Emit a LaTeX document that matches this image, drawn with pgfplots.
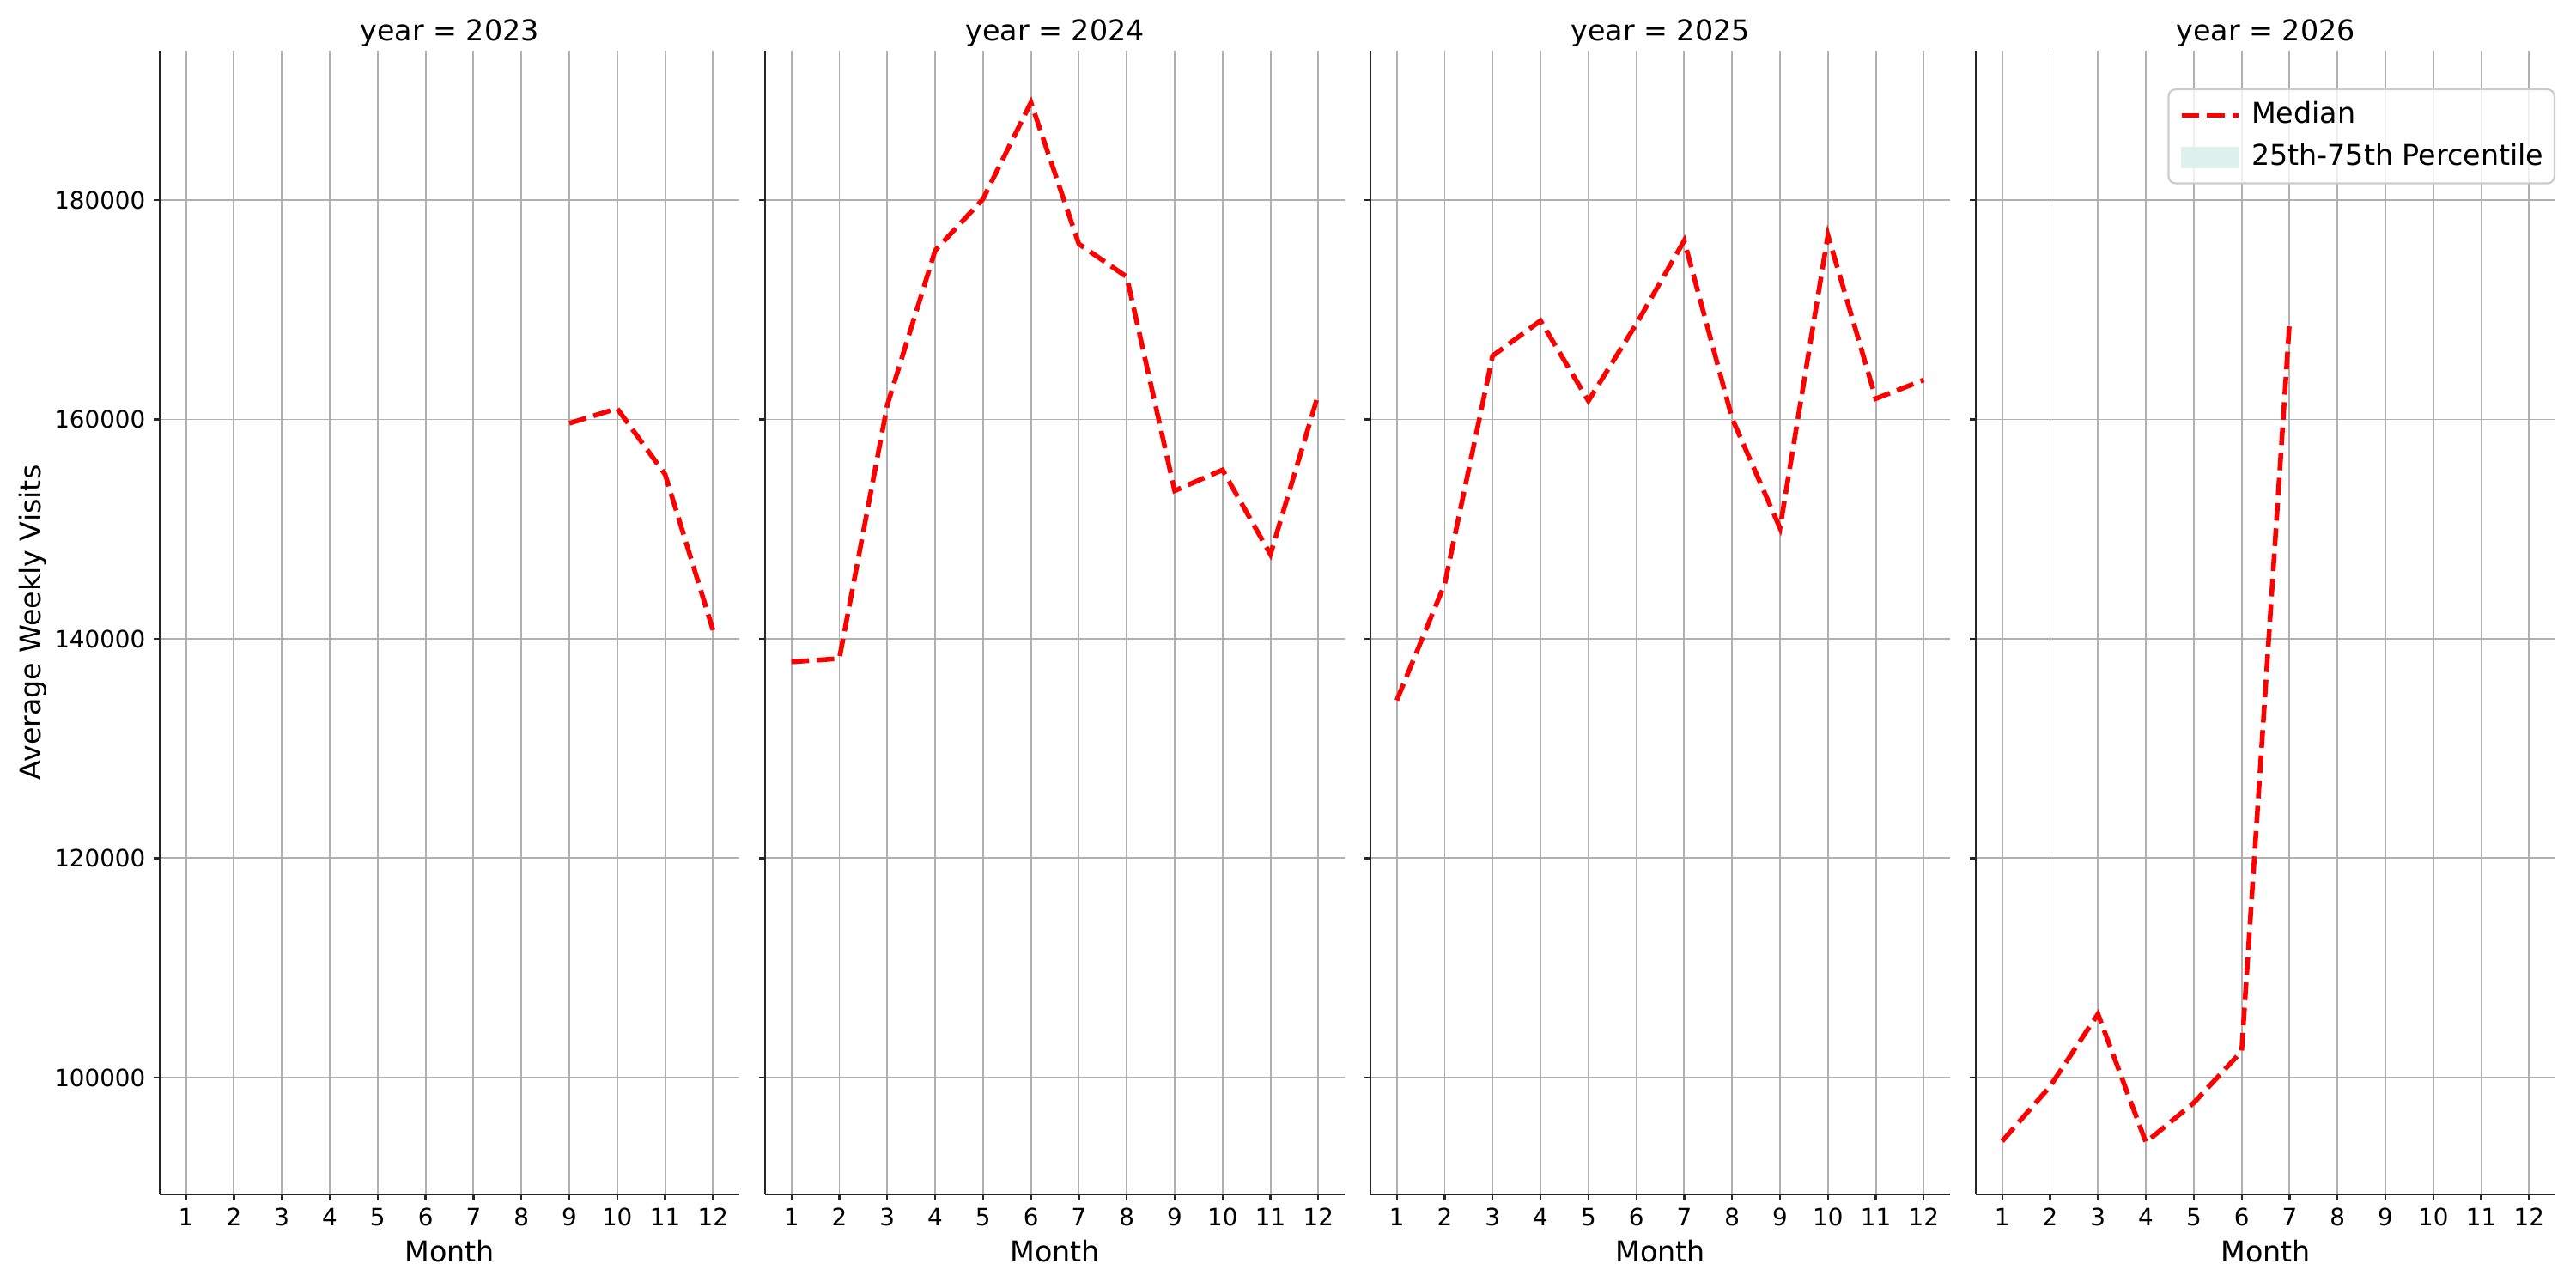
\documentclass[border=0pt]{standalone}
\usepackage{fontspec}
\setmainfont{DejaVu Sans}
\usepackage{pgfplots}
\pgfplotsset{compat=1.18}

\definecolor{gridgray}{HTML}{B0B0B0}
\definecolor{spine}{HTML}{262626}
\definecolor{pctfill}{RGB}{222,240,235}
\definecolor{legedge}{HTML}{CCCCCC}

\newcommand{\tickfont}{\fontsize{10bp}{12bp}\selectfont}
\newcommand{\labfont}{\fontsize{12bp}{14bp}\selectfont}

\pgfplotsset{
  panel/.style={
    scale only axis, width=243bp, height=479.5bp,
    anchor=south west,
    xmin=0.45, xmax=12.55, ymin=89350, ymax=193620,
    xtick={1,...,12}, ytick={100000,120000,...,180000},
    scaled y ticks=false,
    /pgf/number format/fixed,
    /pgf/number format/precision=0,
    /pgf/number format/1000 sep={},
    /pgf/number format/assume math mode=true,
    axis x line*=bottom, axis y line*=left,
    axis line style={-, draw=spine, line width=0.8bp},
    tick align=outside, major tick length=2.5bp,
    tick style={draw=spine, line width=0.8bp},
    grid=major, major grid style={draw=gridgray, line width=0.7bp},
    tick label style={font=\tickfont, black},
    xticklabel style={inner sep=0pt, anchor=north, yshift=-3bp},
    yticklabel style={inner sep=0pt, anchor=east, xshift=-3.3bp},
    xlabel={Month},
    every axis x label/.style={at={(axis description cs:0.5,0)}, anchor=base,
      yshift=-28.4bp, font=\labfont},
    every axis title/.style={at={(axis description cs:0.5,1)}, anchor=base,
      yshift=4bp, font=\labfont},
  },
  median/.style={red, line width=2bp, dash pattern=on 7.4bp off 3.2bp,
    legend image code/.code={\draw[##1] (0bp,0bp) -- (23.8bp,0bp);}},
}

\begin{document}
\begin{tikzpicture}
\path[use as bounding box] (0,0) rectangle (1080bp,540bp);

% year 2023
\begin{axis}[panel, at={(66.96bp,39.24bp)}, title={year = 2023},
  ylabel={Average Weekly Visits},
  every axis y label/.style={at={(axis description cs:-0.2193,0.5)},
    rotate=90, anchor=center, font=\labfont}]
\addplot[median] coordinates {(9,159650) (10,161000) (11,155000) (12,140800)};
\end{axis}

% year 2024
\begin{axis}[panel, at={(320.76bp,39.24bp)}, title={year = 2024}, yticklabels={}]
\addplot[median] coordinates {
  (1,137900) (2,138200) (3,161300) (4,175400) (5,180100) (6,188900)
  (7,176000) (8,173000) (9,153500) (10,155400) (11,147700) (12,162300)};
\end{axis}

% year 2025
\begin{axis}[panel, at={(574.56bp,39.24bp)}, title={year = 2025}, yticklabels={}]
\addplot[median] coordinates {
  (1,134400) (2,145000) (3,165800) (4,169000) (5,161700) (6,168700)
  (7,176300) (8,160100) (9,150100) (10,176800) (11,161900) (12,163600)};
\end{axis}

% year 2026
\begin{axis}[panel, at={(828.36bp,39.24bp)}, title={year = 2026}, yticklabels={},
  legend cell align=left,
  legend style={at={(axis description cs:1,0.967)}, anchor=north east,
    draw=legedge, line width=0.8bp, fill=white, fill opacity=0.8,
    text opacity=1, draw opacity=1, rounded corners=3bp, font=\labfont,
    inner xsep=4.5bp, inner ysep=5bp,
    nodes={inner sep=0pt, text height=9.2bp, text depth=2.6bp},
    row sep=5.8bp,
    /tikz/every odd column/.append style={column sep=4.5bp}}]
\addplot[median] coordinates {
  (1,94200) (2,99200) (3,105800) (4,94100) (5,97700) (6,102400) (7,168900)};
\addlegendentry{Median}
\addlegendimage{legend image code/.code={\fill[pctfill, fill opacity=1, sharp corners] (0bp,-4.1bp) rectangle (23.8bp,4.1bp);}}
\addlegendentry{25th-75th Percentile}
\end{axis}
\end{tikzpicture}
\end{document}
